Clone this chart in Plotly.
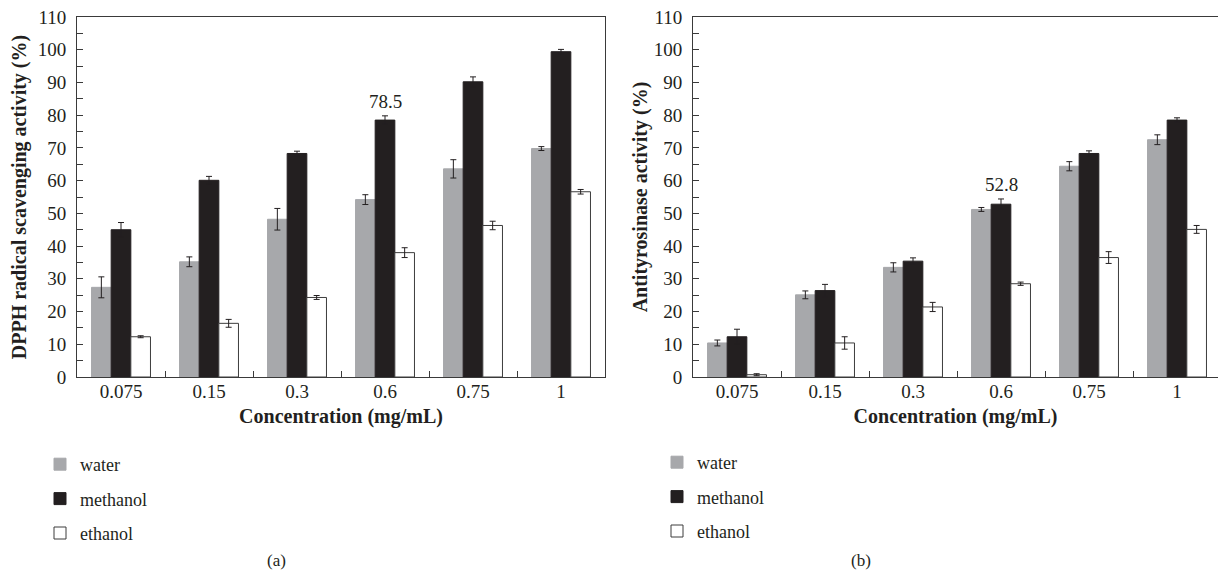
import plotly.graph_objects as go

W, H = 1218, 575

categories = ["0.075", "0.15", "0.3", "0.6", "0.75", "1"]
series_names = ["water", "methanol", "ethanol"]

# Panel (a): DPPH radical scavenging activity (%)
dpph_water = [27.4, 35.2, 48.2, 54.2, 63.6, 69.8]
dpph_water_err = [3.2, 1.5, 3.3, 1.5, 2.8, 0.6]
dpph_methanol = [45.0, 60.1, 68.3, 78.5, 90.2, 99.4]
dpph_methanol_err = [2.2, 1.2, 0.7, 1.3, 1.5, 0.7]
dpph_ethanol = [12.3, 16.4, 24.3, 38.0, 46.3, 56.6]
dpph_ethanol_err = [0.3, 1.2, 0.6, 1.5, 1.3, 0.7]

# Panel (b): Antityrosinase activity (%)
tyr_water = [10.4, 25.1, 33.5, 51.2, 64.4, 72.5]
tyr_water_err = [0.9, 1.2, 1.4, 0.6, 1.4, 1.5]
tyr_methanol = [12.3, 26.4, 35.4, 52.8, 68.3, 78.5]
tyr_methanol_err = [2.3, 1.9, 1.0, 1.6, 0.8, 0.7]
tyr_ethanol = [0.7, 10.4, 21.4, 28.5, 36.5, 45.1]
tyr_ethanol_err = [0.3, 1.9, 1.4, 0.5, 1.8, 1.2]

label_a = "78.5"
label_b = "52.8"
label_cat = "0.6"

SERIF = "Liberation Serif, Times New Roman, serif"
INK = "#231f20"
AXC = "#3a3a3a"
fills = {"water": "#a7a8ab", "methanol": "#231f20", "ethanol": "#ffffff"}
edges = {"water": "#a7a8ab", "methanol": "#231f20", "ethanol": "#3d3d3d"}

fig = go.Figure()

panels = [
    ("x", "y", "legend", [dpph_water, dpph_methanol, dpph_ethanol],
     [dpph_water_err, dpph_methanol_err, dpph_ethanol_err]),
    ("x2", "y2", "legend2", [tyr_water, tyr_methanol, tyr_ethanol],
     [tyr_water_err, tyr_methanol_err, tyr_ethanol_err]),
]
for xa, ya, lg, vals, errs in panels:
    for name, v, e in zip(series_names, vals, errs):
        fig.add_trace(go.Bar(
            x=categories, y=v, name=name, xaxis=xa, yaxis=ya, legend=lg,
            legendgroup=lg + name,
            marker=dict(color=fills[name], line=dict(color=edges[name], width=1)),
            error_y=dict(type="data", array=e, visible=True, color=INK,
                         thickness=1, width=3),
        ))

# axis domains (paper fractions)
ax_a = [77 / W, 605 / W]
ax_b = [693 / W, 1.0]
ydom = [1 - 377 / H, 1 - 17 / H]

common_x = dict(
    type="category", showline=True, linecolor=AXC, linewidth=1,
    ticks="inside", ticklen=6, tickcolor=AXC, tickson="boundaries",
    tickfont=dict(family=SERIF, size=19, color=INK), showgrid=False,
    zeroline=False, ticklabelstandoff=-3, automargin=False,
    title=dict(text="<b>Concentration (mg/mL)</b>",
               font=dict(family=SERIF, size=20, color=INK), standoff=8),
)
common_y = dict(
    range=[0, 110], dtick=10, showline=True, linecolor=AXC, linewidth=1,
    ticks="inside", ticklen=6, tickcolor=AXC,
    minor=dict(dtick=5, ticks="inside", ticklen=6, tickcolor=AXC, showgrid=False),
    tickfont=dict(family=SERIF, size=19, color=INK), showgrid=False,
    zeroline=False, ticklabelstandoff=6, automargin=False,
)

fig.update_layout(
    width=W, height=H,
    margin=dict(l=0, r=0, t=0, b=0, autoexpand=False),
    paper_bgcolor="white", plot_bgcolor="white",
    barmode="group", bargap=0.33, bargroupgap=0,
    xaxis=dict(domain=ax_a, anchor="y", mirror=True, range=[-0.5, 5.5], **common_x),
    yaxis=dict(domain=ydom, anchor="x", mirror=True,
               title=dict(text="<b>DPPH radical scavenging activity (%)</b>",
                          font=dict(family=SERIF, size=20, color=INK), standoff=5),
               **common_y),
    xaxis2=dict(domain=ax_b, anchor="y2", mirror=True,
                range=[-0.5, -0.5 + (W - 693) / 88.0], **common_x),
    yaxis2=dict(domain=ydom, anchor="x2", mirror=False,
                title=dict(text="<b>Antityrosinase activity (%)</b>",
                           font=dict(family=SERIF, size=20, color=INK), standoff=0),
                **common_y),
    legend=dict(x=40 / W, y=1 - 446 / H, xanchor="left", yanchor="top",
                bgcolor="rgba(0,0,0,0)", tracegroupgap=8,
                font=dict(family=SERIF, size=18, color=INK)),
    legend2=dict(x=657 / W, y=1 - 444 / H, xanchor="left", yanchor="top",
                 bgcolor="rgba(0,0,0,0)", tracegroupgap=8,
                 font=dict(family=SERIF, size=18, color=INK)),
)

ia = categories.index(label_cat)
fig.add_annotation(x=ia, y=dpph_methanol[ia] + dpph_methanol_err[ia],
                   xref="x", yref="y", text=label_a, showarrow=False,
                   yanchor="bottom", yshift=2,
                   font=dict(family=SERIF, size=19, color=INK))
fig.add_annotation(x=ia, y=tyr_methanol[ia] + tyr_methanol_err[ia],
                   xref="x2", yref="y2", text=label_b, showarrow=False,
                   yanchor="bottom", yshift=2,
                   font=dict(family=SERIF, size=19, color=INK))

fig.add_annotation(x=265 / W, y=1 - 560 / H, xref="paper", yref="paper",
                   text="(a)", showarrow=False, yanchor="middle",
                   font=dict(family=SERIF, size=17, color=INK))
fig.add_annotation(x=873 / W, y=1 - 560 / H, xref="paper", yref="paper",
                   text="(b)", showarrow=False, yanchor="middle",
                   font=dict(family=SERIF, size=17, color=INK))

fig.write_html("out.html", config={"displayModeBar": False},
               post_script="document.body.style.margin='0';")
